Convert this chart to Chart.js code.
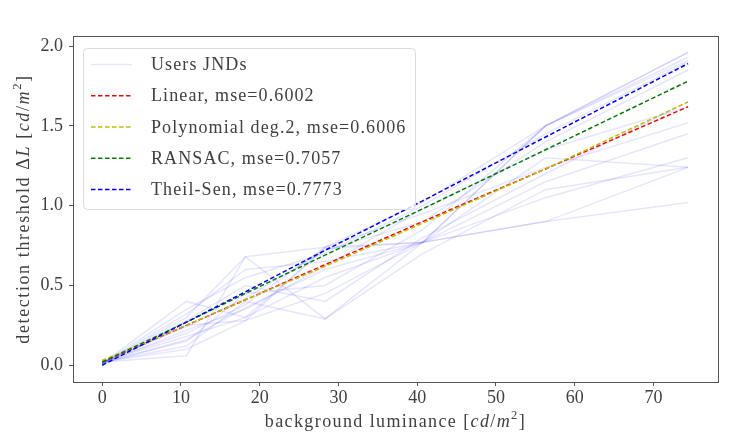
<!DOCTYPE html>
<html><head><meta charset="utf-8">
<script src="https://cdn.jsdelivr.net/npm/chart.js@4"></script>
<style>html,body{margin:0;padding:0;background:#fff}#wrap{width:730px;height:438px}</style>
</head><body><div id="wrap"><canvas id="c" width="730" height="438"></canvas></div>
<script>
// ---- data ----
const luminance = [0, 10.7, 18.2, 28.3, 40.7, 56.3, 74.4];
const userJNDs = [
  [0.01, 0.40, 0.30, 0.73, 0.77, 1.50, 1.96],
  [0.02, 0.06, 0.68, 0.29, 0.77, 0.90, 1.24],
  [0.01, 0.25, 0.28, 0.45, 0.77, 1.50, 1.91],
  [0.02, 0.20, 0.38, 0.74, 0.77, 0.90, 1.02],
  [0.01, 0.30, 0.68, 0.74, 0.95, 1.24, 1.52],
  [0.02, 0.15, 0.45, 0.50, 0.85, 1.50, 1.93],
  [0.01, 0.22, 0.35, 0.62, 0.98, 1.35, 1.62],
  [0.02, 0.12, 0.40, 0.29, 0.70, 1.10, 1.24],
  [0.01, 0.35, 0.55, 0.70, 1.00, 1.45, 1.90],
  [0.02, 0.18, 0.30, 0.55, 0.77, 1.30, 1.24],
  [0.01, 0.28, 0.50, 0.40, 0.80, 1.20, 1.65],
  [0.02, 0.10, 0.28, 0.74, 1.02, 1.50, 1.96],
  [0.01, 0.32, 0.60, 0.65, 0.77, 1.15, 1.45],
  [0.02, 0.24, 0.42, 0.72, 0.90, 1.40, 1.85],
  [0.01, 0.16, 0.36, 0.60, 0.77, 1.05, 1.30]
];
const linearFit   = [0.02, 0.25, 0.41, 0.63, 0.90, 1.23, 1.62];
const polyFit     = [0.03, 0.25, 0.41, 0.62, 0.89, 1.23, 1.65];
const ransacFit   = [0.02, 0.27, 0.45, 0.69, 0.98, 1.35, 1.78];
const theilSenFit = [0.00, 0.27, 0.46, 0.72, 1.03, 1.43, 1.89];
const seriesLabels = ['Users JNDs', 'Linear, mse=0.6002', 'Polynomial deg.2, mse=0.6006', 'RANSAC, mse=0.7057', 'Theil-Sen, mse=0.7773'];
const xTicks = [0, 10, 20, 30, 40, 50, 60, 70];
const yTicks = [0.0, 0.5, 1.0, 1.5, 2.0];

// ---- styling ----
const SERIF = '"Liberation Serif", "DejaVu Serif", serif';
const TXT = '#404040';
const userColor = 'rgba(0,0,255,0.1)';
const fitColors = ['#ff0000', '#bfbf00', '#008000', '#0000ff'];
const DASH = [4.5, 2.5];

const pts = ys => luminance.map((x, i) => ({x, y: ys[i]}));
const datasets = [];
userJNDs.forEach((u, i) => datasets.push({
  label: i === 0 ? seriesLabels[0] : '_nolegend_', data: pts(u), borderColor: userColor,
  borderWidth: 1.5, pointRadius: 0, tension: 0, fill: false, order: 10
}));
[linearFit, polyFit, ransacFit, theilSenFit].forEach((f, i) => datasets.push({
  label: seriesLabels[i + 1], data: pts(f), borderColor: fitColors[i], borderWidth: 1.5,
  borderDash: DASH, pointRadius: 0, tension: 0, fill: false, order: 4 - i
}));

function drawRich(ctx, segs, x, y, size, spacing) {
  let w = 0;
  ctx.letterSpacing = spacing + 'px';
  const f = s => (s.it ? 'italic ' : '') + (s.sup ? size * 0.7 : size) + 'px ' + SERIF;
  segs.forEach(s => { ctx.font = f(s); s.w = ctx.measureText(s.t).width; w += s.w; });
  let cx = x - w / 2;
  ctx.textAlign = 'left'; ctx.textBaseline = 'alphabetic';
  segs.forEach(s => { ctx.font = f(s); ctx.fillText(s.t, cx, s.sup ? y - size * 0.42 : y); cx += s.w; });
  ctx.letterSpacing = '0px';
}

const customPlugin = {
  id: 'custom',
  afterDatasetsDraw(chart) {
    const {ctx, chartArea: a} = chart;
    ctx.save();
    ctx.strokeStyle = '#555'; ctx.lineWidth = 1;
    ctx.strokeRect(Math.round(a.left) + 0.5, Math.round(a.top) + 0.5, Math.round(a.right - a.left), Math.round(a.bottom - a.top));
    // legend
    const L = 83.5, T = 48.5, W = 332, H = 161, r = 4;
    ctx.beginPath();
    ctx.moveTo(L + r, T); ctx.lineTo(L + W - r, T); ctx.quadraticCurveTo(L + W, T, L + W, T + r);
    ctx.lineTo(L + W, T + H - r); ctx.quadraticCurveTo(L + W, T + H, L + W - r, T + H);
    ctx.lineTo(L + r, T + H); ctx.quadraticCurveTo(L, T + H, L, T + H - r);
    ctx.lineTo(L, T + r); ctx.quadraticCurveTo(L, T, L + r, T); ctx.closePath();
    ctx.fillStyle = 'rgba(255,255,255,0.8)'; ctx.fill();
    ctx.strokeStyle = '#dcdcdc'; ctx.stroke();
    const legendColors = [userColor].concat(fitColors);
    seriesLabels.forEach((lab, i) => {
      const y = 64.5 + i * 31.25;
      ctx.beginPath();
      ctx.setLineDash(i === 0 ? [] : DASH);
      ctx.strokeStyle = legendColors[i]; ctx.lineWidth = 1.5;
      ctx.moveTo(91, y); ctx.lineTo(132, y); ctx.stroke();
      ctx.setLineDash([]);
      ctx.fillStyle = TXT; ctx.font = '18px ' + SERIF;
      ctx.letterSpacing = '1.1px';
      ctx.textAlign = 'left'; ctx.textBaseline = 'middle';
      ctx.fillText(lab, 151, y + 1);
      ctx.letterSpacing = '0px';
    });
    // axis titles
    ctx.fillStyle = TXT;
    drawRich(ctx, [{t: 'background luminance ['}, {t: 'cd', it: 1}, {t: '/'}, {t: 'm', it: 1}, {t: '2', sup: 1}, {t: ']'}], (a.left + a.right) / 2, 427, 18, 1.4);
    ctx.translate(29, (a.top + a.bottom) / 2);
    ctx.rotate(-Math.PI / 2);
    drawRich(ctx, [{t: 'detection threshold Δ'}, {t: 'L', it: 1}, {t: ' ['}, {t: 'cd', it: 1}, {t: '/'}, {t: 'm', it: 1}, {t: '2', sup: 1}, {t: ']'}], 0, 0, 18, 1.6);
    ctx.restore();
  }
};

new Chart(document.getElementById('c'), {
  type: 'line',
  data: {datasets},
  plugins: [customPlugin],
  options: {
    responsive: false, animation: false, devicePixelRatio: 1,
    layout: {padding: {top: 36, right: 12, left: 0, bottom: 0}},
    plugins: {legend: {display: false}, tooltip: {enabled: false}, title: {display: false}},
    scales: {
      x: {
        type: 'linear', min: -3.7, max: 78.2,
        afterBuildTicks: s => { s.ticks = xTicks.map(v => ({value: v})); },
        afterFit: s => { s.height = 56; },
        ticks: {font: {family: SERIF, size: 18}, color: TXT, padding: 1, maxRotation: 0, autoSkip: false, callback: v => String(v)},
        grid: {drawOnChartArea: false, drawTicks: true, tickLength: 4, color: '#555'},
        border: {display: true, color: '#555'}
      },
      y: {
        min: -0.105, max: 2.063,
        afterBuildTicks: s => { s.ticks = yTicks.map(v => ({value: v})); },
        afterFit: s => { s.width = 73; },
        ticks: {font: {family: SERIF, size: 18}, color: TXT, padding: 6, autoSkip: false, callback: v => Number(v).toFixed(1)},
        grid: {drawOnChartArea: false, drawTicks: true, tickLength: 4, color: '#555'},
        border: {display: true, color: '#555'}
      }
    }
  }
});
</script></body></html>
